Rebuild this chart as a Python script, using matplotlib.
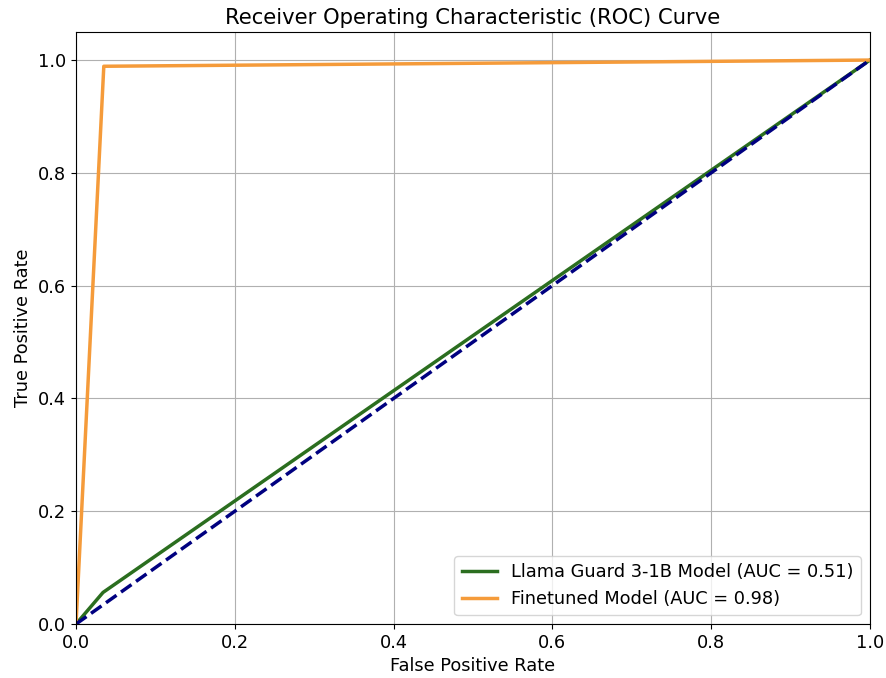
import matplotlib
matplotlib.use("Agg")
import matplotlib.pyplot as plt

# ROC points
llama_fpr = [0.0, 0.034, 1.0]
llama_tpr = [0.0, 0.056, 1.0]
llama_auc = 0.51

finetuned_fpr = [0.0, 0.035, 1.0]
finetuned_tpr = [0.0, 0.989, 1.0]
finetuned_auc = 0.98

chance = [0.0, 1.0]

fig = plt.figure(figsize=(8.86, 6.78), dpi=100)
ax = fig.add_axes([0.0858, 0.0796, 0.896, 0.8734])

ax.plot(llama_fpr, llama_tpr, color="#2b6e1f", lw=2.5,
        label=f"Llama Guard 3-1B Model (AUC = {llama_auc:.2f})")
ax.plot(finetuned_fpr, finetuned_tpr, color="#f59b3a", lw=2.5,
        label=f"Finetuned Model (AUC = {finetuned_auc:.2f})")
ax.plot(chance, chance, color="navy", lw=2.5, linestyle="--")

ax.set_xlim(0.0, 1.0)
ax.set_ylim(0.0, 1.05)
ax.set_xlabel("False Positive Rate", fontsize=12.8)
ax.set_ylabel("True Positive Rate", fontsize=12.8)
ax.set_title("Receiver Operating Characteristic (ROC) Curve", fontsize=15.2)
ax.tick_params(labelsize=12.8)
ax.grid(True)
ax.legend(loc="lower right", fontsize=12.8)

fig.savefig("out.png", dpi=100)
